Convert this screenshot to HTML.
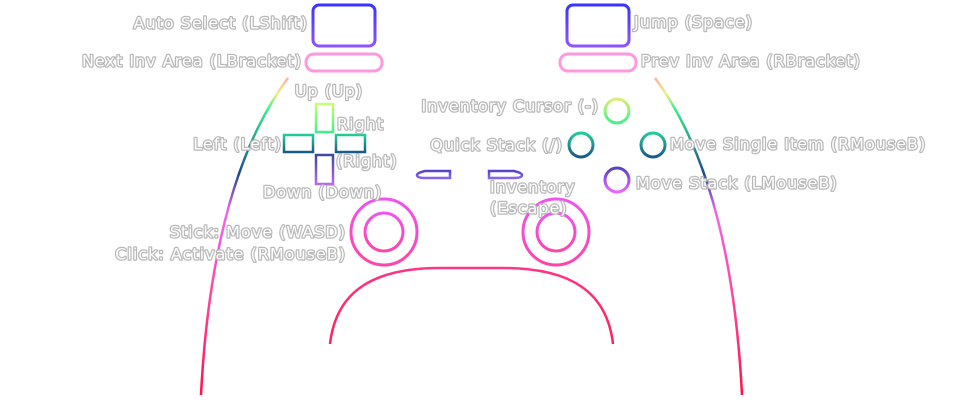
<!DOCTYPE html>
<html><head><meta charset="utf-8"><style>
html,body{margin:0;padding:0;background:#fff;width:960px;height:403px;overflow:hidden}
text{font-family:"DejaVu Sans","Liberation Sans",sans-serif;font-size:16px;letter-spacing:1px;fill:#fff;stroke:#b8b8b8;stroke-width:2.5px;paint-order:stroke;stroke-linejoin:round;dominant-baseline:middle}
</style></head><body>
<svg width="960" height="403" viewBox="0 0 960 403" xmlns="http://www.w3.org/2000/svg">
<defs>
<linearGradient id="gBox" x1="0" y1="0" x2="0" y2="1"><stop offset="0" stop-color="#3a33ff"/><stop offset="1" stop-color="#8a55ff"/></linearGradient>
<linearGradient id="gBody" gradientUnits="userSpaceOnUse" x1="0" y1="78" x2="0" y2="395"><stop offset="0" stop-color="#ffb0a0"/><stop offset="0.05" stop-color="#eef080"/><stop offset="0.1" stop-color="#33f088"/><stop offset="0.3" stop-color="#1a4a90"/><stop offset="0.42" stop-color="#ee66ee"/><stop offset="0.7" stop-color="#ff4499"/><stop offset="1" stop-color="#ff1144"/></linearGradient>
<linearGradient id="gUp" x1="0" y1="0" x2="0" y2="1"><stop offset="0" stop-color="#c8ff77"/><stop offset="1" stop-color="#44ee88"/></linearGradient>
<linearGradient id="gTeal" x1="0" y1="0" x2="0" y2="1"><stop offset="0" stop-color="#22cc99"/><stop offset="1" stop-color="#1a5a88"/></linearGradient>
<linearGradient id="gDown" x1="0" y1="0" x2="0" y2="1"><stop offset="0" stop-color="#3a4aa0"/><stop offset="1" stop-color="#bb66ee"/></linearGradient>
<linearGradient id="gSel" x1="0" y1="0" x2="0" y2="1"><stop offset="0" stop-color="#5544cc"/><stop offset="1" stop-color="#8866ee"/></linearGradient>
<linearGradient id="gStick" x1="0" y1="0" x2="0" y2="1"><stop offset="0" stop-color="#ee55ee"/><stop offset="1" stop-color="#ff44aa"/></linearGradient>
<linearGradient id="gArch" x1="0" y1="0" x2="0" y2="1"><stop offset="0" stop-color="#ff3388"/><stop offset="1" stop-color="#ff2255"/></linearGradient>
<linearGradient id="gY" x1="0" y1="0" x2="0" y2="1"><stop offset="0" stop-color="#ddee77"/><stop offset="1" stop-color="#44f088"/></linearGradient>
<linearGradient id="gP" x1="0" y1="0" x2="0" y2="1"><stop offset="0" stop-color="#5544bb"/><stop offset="1" stop-color="#ee66ff"/></linearGradient>
</defs>
<g fill="none" stroke-width="3">
<rect x="313" y="5" width="62" height="41" rx="6" stroke="url(#gBox)"/>
<rect x="567" y="5" width="62" height="41" rx="6" stroke="url(#gBox)"/>
<rect x="306" y="54" width="76" height="17" rx="8" stroke="#ff99dd"/>
<rect x="560" y="54" width="76" height="17" rx="8" stroke="#ff99dd"/>
<path d="M288,78 Q212,180 201,395" stroke="url(#gBody)" stroke-width="2.5"/>
<path d="M655,78 Q731,180 742,395" stroke="url(#gBody)" stroke-width="2.5"/>
<rect x="316" y="104" width="17" height="28" stroke="url(#gUp)" stroke-width="2.5"/>
<rect x="284" y="135" width="29" height="17" stroke="url(#gTeal)" stroke-width="2.5"/>
<rect x="336" y="135" width="29" height="17" stroke="url(#gTeal)" stroke-width="2.5"/>
<rect x="316" y="155" width="17" height="29" stroke="url(#gDown)" stroke-width="2.5"/>
<path d="M450,171 L425,171 Q417,173 417,175 Q417,178 425,178 L450,178 Z" stroke="url(#gSel)" stroke-width="2.5"/>
<path d="M489,171 L514,171 Q522,173 522,175 Q522,178 514,178 L489,178 Z" stroke="url(#gSel)" stroke-width="2.5"/>
<circle cx="384" cy="232" r="33" stroke="url(#gStick)"/>
<circle cx="384" cy="232" r="19" stroke="url(#gStick)"/>
<circle cx="556" cy="232" r="33" stroke="url(#gStick)"/>
<circle cx="556" cy="232" r="19" stroke="url(#gStick)"/>
<path d="M330,344 C336,292 372,268 440,268 L503,268 C571,268 607,292 613,344" stroke="url(#gArch)" stroke-width="2.5"/>
<circle cx="617" cy="111" r="12" stroke="url(#gY)"/>
<circle cx="581" cy="145" r="12" stroke="url(#gTeal)"/>
<circle cx="653" cy="145" r="12" stroke="url(#gTeal)"/>
<circle cx="617" cy="180" r="12" stroke="url(#gP)"/>
</g>
<text x="308" y="24" text-anchor="end">Auto Select (LShift)</text>
<text x="302" y="62" text-anchor="end">Next Inv Area (LBracket)</text>
<text x="329" y="92" text-anchor="middle">Up (Up)</text>
<text x="337" y="125">Right</text>
<text x="336" y="162">(Right)</text>
<text x="282" y="145" text-anchor="end">Left (Left)</text>
<text x="263" y="193">Down (Down)</text>
<text x="599" y="107" text-anchor="end">Inventory Cursor (-)</text>
<text x="563" y="146" text-anchor="end">Quick Stack (/)</text>
<text x="490" y="188">Inventory</text>
<text x="490" y="209">(Escape)</text>
<text x="634" y="23">Jump (Space)</text>
<text x="641" y="62">Prev Inv Area (RBracket)</text>
<text x="670" y="145">Move Single Item (RMouseB)</text>
<text x="636" y="184">Move Stack (LMouseB)</text>
<text x="346" y="233" text-anchor="end">Stick: Move (WASD)</text>
<text x="346" y="255" text-anchor="end">Click: Activate (RMouseB)</text>
</svg>
</body></html>
